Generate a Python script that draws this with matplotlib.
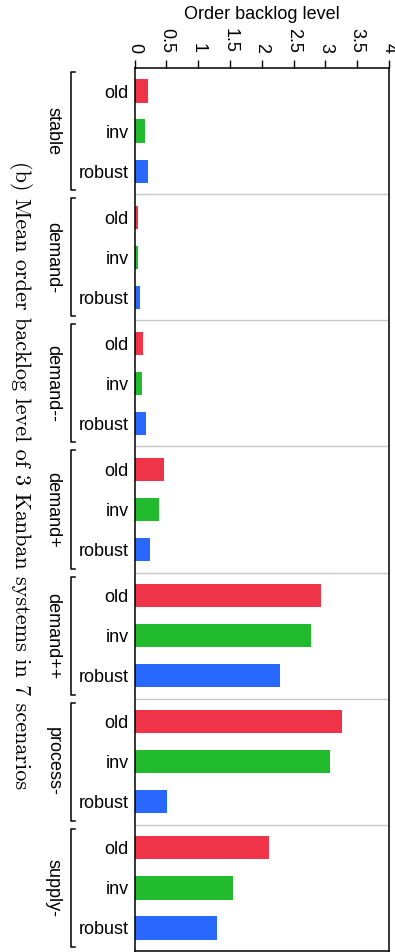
import matplotlib
matplotlib.use("Agg")
import matplotlib.pyplot as plt
from matplotlib.transforms import blended_transform_factory

# Mean order backlog level per scenario and Kanban system
scenarios = ["stable", "demand-", "demand--", "demand+", "demand++", "process-", "supply-"]
systems = ["old", "inv", "robust"]
old_vals = [0.21, 0.06, 0.13, 0.46, 2.93, 3.26, 2.12]
inv_vals = [0.17, 0.05, 0.12, 0.39, 2.77, 3.07, 1.55]
robust_vals = [0.21, 0.09, 0.18, 0.24, 2.29, 0.51, 1.30]
x_ticks = [0, 0.5, 1, 1.5, 2, 2.5, 3, 3.5, 4]
x_tick_labels = ["0", "0.5", "1", "1.5", "2", "2.5", "3", "3.5", "4"]

colors = ["#ef3348", "#22bb2e", "#2968ff"]
sans = "Liberation Sans"
fs = 13

W, H = 395, 952
fig = plt.figure(figsize=(W / 100, H / 100), dpi=100)
ax = fig.add_axes([134.5 / W, 1 - 951 / H, (389 - 134.5) / W, (951 - 68) / H])

G = 3.15          # height of one scenario block (bar pitch = 1)
off = (G - 2) / 2  # offset of the first bar inside a block
bar_h = 0.58

series = [old_vals, inv_vals, robust_vals]
ypos, ylabels = [], []
for g, name in enumerate(scenarios):
    for k, sys in enumerate(systems):
        y = g * G + off + k
        ax.barh(y, series[k][g], height=bar_h, color=colors[k], linewidth=0)
        ypos.append(y)
        ylabels.append(sys)

for g in range(1, len(scenarios)):
    ax.axhline(g * G, color="#c8c8c8", lw=1.0, zorder=0)

ax.set_ylim(len(scenarios) * G, 0)
ax.set_xlim(0, 4)
ax.set_yticks(ypos)
ax.set_yticklabels(ylabels, fontsize=fs, family=sans)
ax.tick_params(axis="y", length=0, pad=4)

ax.xaxis.tick_top()
ax.xaxis.set_label_position("top")
ax.set_xticks(x_ticks)
ax.set_xticklabels(x_tick_labels, rotation=-90, fontsize=fs, family=sans)
ax.tick_params(axis="x", length=6, width=1.0, pad=5, direction="out")
ax.set_xlabel("Order backlog level", fontsize=fs, family=sans, labelpad=6)

for sp in ax.spines.values():
    sp.set_linewidth(1.1)
    sp.set_color("black")

# scenario brackets and names on the left
tr = blended_transform_factory(fig.transFigure, ax.transData)
bx, bx2 = 71 / W, 75 / W
margin = 4 / ((951 - 68) / (len(scenarios) * G))
for g, name in enumerate(scenarios):
    y0 = g * G + margin
    y1 = (g + 1) * G - margin
    ax.plot([bx2, bx, bx, bx2], [y0, y0, y1, y1], color="black", lw=1.1,
            transform=tr, clip_on=False)
    ax.text(53 / W, (g + 0.5) * G, name, rotation=-90, ha="center", va="center",
            fontsize=fs, family=sans, transform=tr)

fig.text(20 / W, 1 - 475 / H,
         "(b) Mean order backlog level of 3 Kanban systems in 7 scenarios",
         rotation=-90, ha="center", va="center", fontsize=16, family="cmr10")

fig.savefig("out.png", dpi=100)
